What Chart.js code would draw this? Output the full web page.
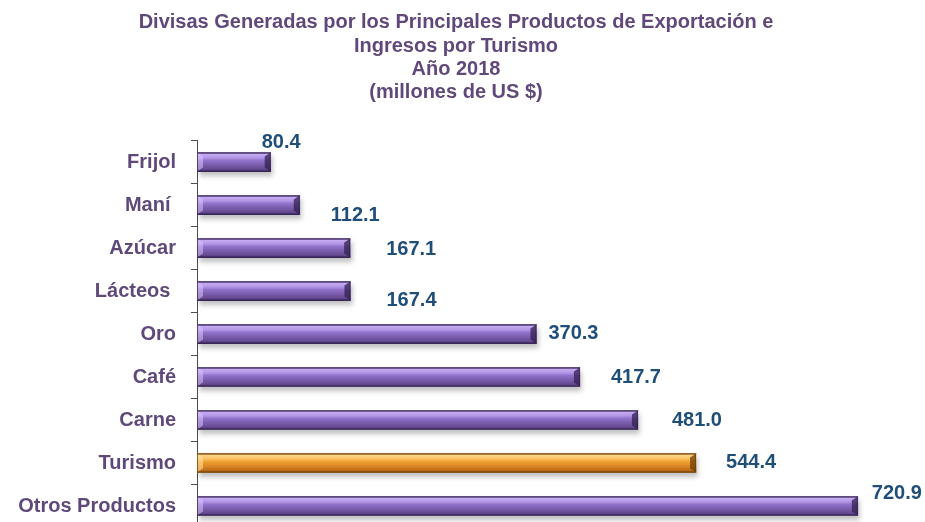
<!DOCTYPE html>
<html>
<head>
<meta charset="utf-8">
<script src="https://cdn.jsdelivr.net/npm/chart.js@4.4.1/dist/chart.umd.min.js"></script>
<style>
  html, body { margin: 0; padding: 0; background: #ffffff; overflow: hidden; }
  #chart { position: absolute; left: 0; top: 0; }
</style>
</head>
<body>
<canvas id="chart" width="925" height="530"></canvas>
<script>
// Products and export revenue, 2018 (millions of US $)
const categories = ['Frijol', 'Maní ', 'Azúcar', 'Lácteos ', 'Oro', 'Café', 'Carne', 'Turismo', 'Otros Productos'];
const values = [80.4, 112.1, 167.1, 167.4, 370.3, 417.7, 481.0, 544.4, 720.9];
const titleLines = [
  'Divisas Generadas por los Principales Productos de Exportación e',
  'Ingresos por Turismo',
  'Año 2018',
  '(millones de US $)'
];
const highlightCategory = 'Turismo';

// Where each value label sits relative to the end of its bar
const labelShift = [
  [-9, -20], [31, 10], [36, 1], [36, 9], [12, -1],
  [31, 0], [34, 0], [30, -1], [14, -13]
];

const PURPLE = ['#4a3470', '#c6acf2', '#b395e6', '#9172ca', '#7d5fb0', '#644990', '#3f2b5e'];
const ORANGE = ['#9a560c', '#fdd88e', '#f9c060', '#f0a232', '#e08c26', '#c06e18', '#8a4c0a'];
const BAR_T = 19;

function barFill(ctx) {
  const chart = ctx.chart;
  const pal = categories[ctx.dataIndex] === highlightCategory ? ORANGE : PURPLE;
  if (!chart.chartArea) return pal[3];
  const yc = chart.scales.y.getPixelForValue(ctx.dataIndex);
  const g = chart.ctx.createLinearGradient(0, yc - BAR_T / 2, 0, yc + BAR_T / 2);
  g.addColorStop(0, pal[0]);
  g.addColorStop(0.08, pal[1]);
  g.addColorStop(0.28, pal[2]);
  g.addColorStop(0.42, pal[3]);
  g.addColorStop(0.62, pal[4]);
  g.addColorStop(0.88, pal[5]);
  g.addColorStop(1, pal[6]);
  return g;
}

// Soft drop shadow under the bars
const shadowPlugin = {
  id: 'barShadow',
  beforeDatasetsDraw(chart) {
    const c = chart.ctx;
    c.save();
    c.shadowColor = 'rgba(0,0,0,0.25)';
    c.shadowBlur = 5;
    c.shadowOffsetX = 2;
    c.shadowOffsetY = 4;
  },
  afterDatasetsDraw(chart) {
    chart.ctx.restore();
  }
};

// Bevelled ends on each bar and the value labels
const bevelAndLabels = {
  id: 'bevelAndLabels',
  afterDatasetsDraw(chart) {
    const c = chart.ctx;
    const meta = chart.getDatasetMeta(0);
    meta.data.forEach((bar, i) => {
      const top = bar.y - bar.height / 2;
      const bot = bar.y + bar.height / 2;
      const right = bar.x;
      const left = bar.base;
      const b = 6;
      const hi = categories[i] === highlightCategory;
      const dark = hi ? 'rgba(110,60,5,0.75)' : 'rgba(50,32,80,0.75)';
      const light = hi ? 'rgba(255,230,170,0.55)' : 'rgba(225,205,255,0.5)';
      c.save();
      // right end bevel
      c.beginPath();
      c.moveTo(right - b, top + 4);
      c.lineTo(right, top);
      c.lineTo(right, bot);
      c.lineTo(right - b, bot - 4);
      c.closePath();
      c.fillStyle = dark;
      c.fill();
      // left end bevel
      c.beginPath();
      c.moveTo(left, top);
      c.lineTo(left + b, top + 4);
      c.lineTo(left + b, bot - 4);
      c.lineTo(left, bot);
      c.closePath();
      c.fillStyle = light;
      c.fill();
      // outline
      c.strokeStyle = dark;
      c.lineWidth = 1;
      c.strokeRect(left + 0.5, top + 0.5, right - left - 1, bot - top - 1);
      c.restore();

      // value label
      const v = values[i];
      const [dx, dy] = labelShift[i];
      c.save();
      c.font = 'bold 20px Arial, "Liberation Sans", sans-serif';
      c.fillStyle = '#1f4e79';
      c.textAlign = 'left';
      c.textBaseline = 'middle';
      c.fillText(v.toFixed(1), chart.scales.x.getPixelForValue(v) + dx, bar.y + dy);
      c.restore();
    });
  }
};

new Chart(document.getElementById('chart'), {
  type: 'bar',
  data: {
    labels: categories,
    datasets: [{
      data: values,
      backgroundColor: barFill,
      borderWidth: 0,
      barThickness: BAR_T
    }]
  },
  options: {
    indexAxis: 'y',
    responsive: false,
    maintainAspectRatio: false,
    animation: false,
    layout: { padding: { top: 0, right: 13, bottom: 2.5, left: 0 } },
    plugins: {
      legend: { display: false },
      tooltip: { enabled: false },
      title: {
        display: true,
        text: titleLines,
        color: '#60497a',
        font: { family: 'Arial, "Liberation Sans", sans-serif', size: 20, weight: 'bold', lineHeight: 1.17 },
        padding: { top: 11, bottom: 36 }
      }
    },
    scales: {
      x: { display: false, min: 0, max: 780 },
      y: {
        afterFit(scale) {
          scale.width = 197;
          // category rows are centred, so no extra room for label overhang
          scale.paddingTop = 0;
          scale.paddingBottom = 0;
        },
        border: { display: true, color: '#4d4d4d', width: 1 },
        grid: { display: true, drawOnChartArea: false, drawTicks: true, tickLength: 6, color: '#4d4d4d', offset: true },
        ticks: {
          color: '#5f497a',
          padding: 15,
          font: { family: 'Arial, "Liberation Sans", sans-serif', size: 20, weight: 'bold' }
        }
      }
    }
  },
  plugins: [shadowPlugin, bevelAndLabels]
});
</script>
</body>
</html>
